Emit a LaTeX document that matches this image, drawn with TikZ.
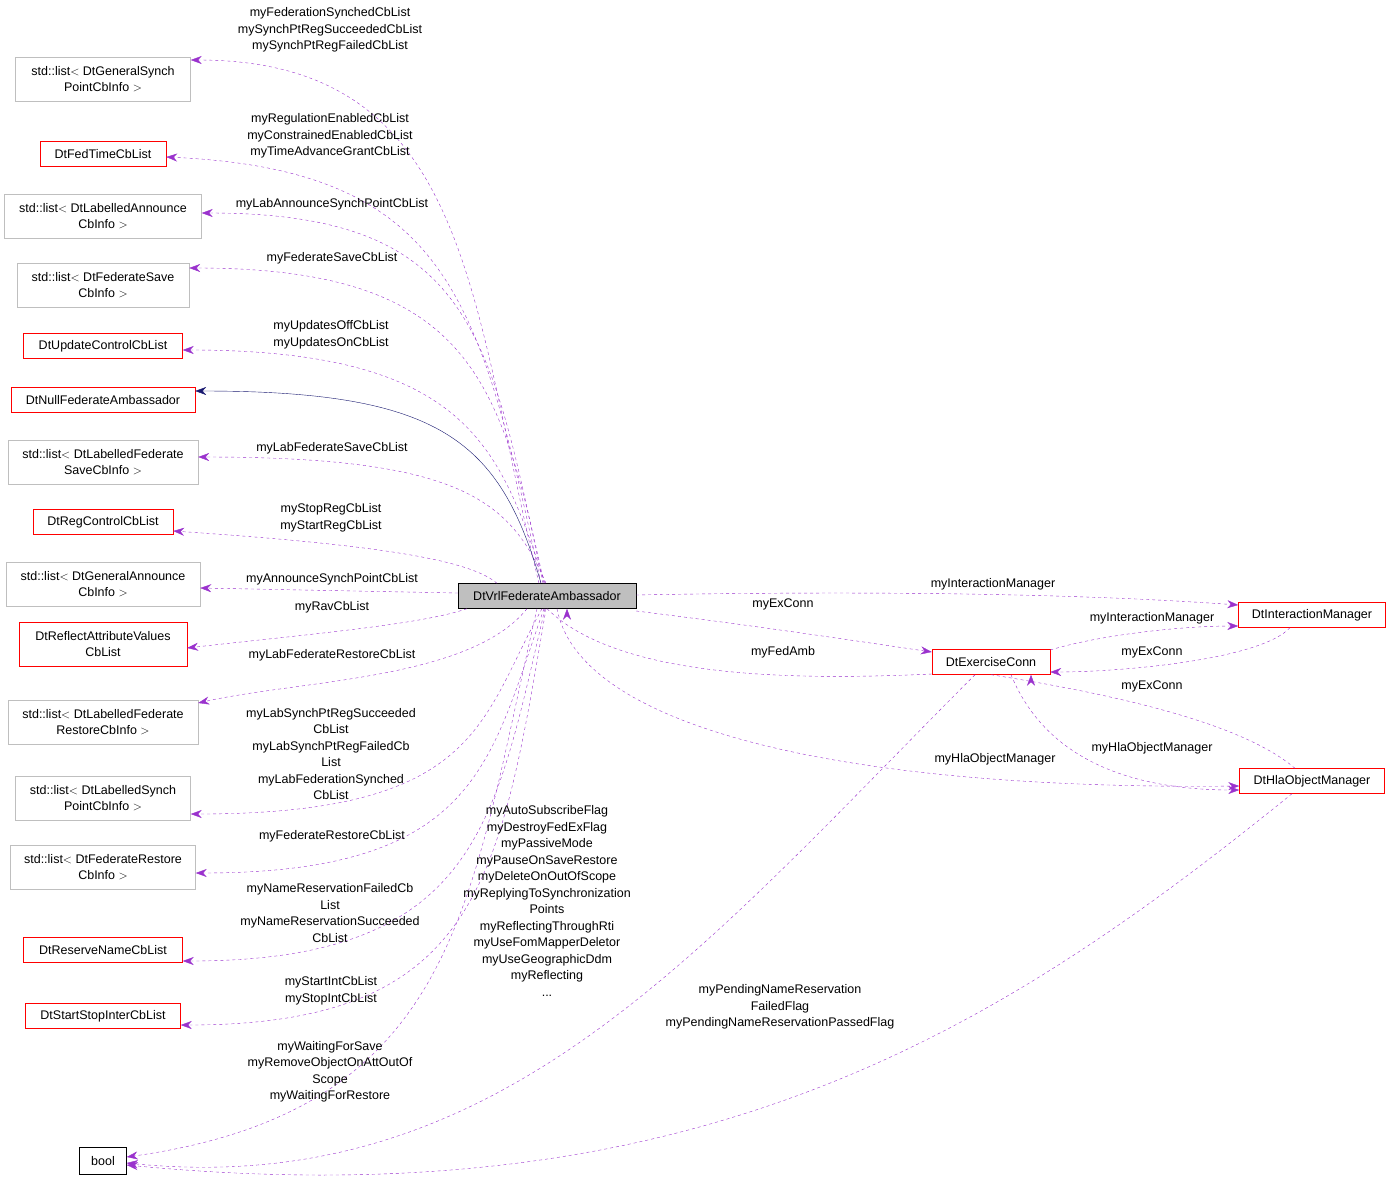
\documentclass[tikz,border=0pt]{standalone}
\usepackage{fontspec}
\setmainfont{Liberation Sans}
\usetikzlibrary{arrows.meta}
\definecolor{depcol}{HTML}{9A32CD}
\definecolor{inhcol}{HTML}{191970}
\definecolor{grayline}{HTML}{BFBFBF}

\begin{document}
\begin{tikzpicture}[x=1pt,y=-1pt,
        font=\fontsize{12.5}{16.5}\selectfont,
        cls/.style = {draw, align=center, inner sep=3pt, minimum height=25pt},
        ext/.style = {cls, draw=grayline, minimum height=44pt},
        red/.style = {cls, draw=red},
        dep/.style = {draw=depcol, dashed, -{Stealth[length=11pt,width=8pt]}},
        inh/.style = {draw=inhcol, -{Stealth[length=11pt,width=8pt]}},
        lbl/.style = {align=center, inner sep=0pt}]
    \useasboundingbox (0,0) rectangle (1392,1189);
    % left column
    \node[ext, minimum width=175pt] (gensynch) at (103,79) {std::list$<$ DtGeneralSynch\\PointCbInfo $>$};
    \node[red, minimum width=126pt] (fedtime) at (103,154) {DtFedTimeCbList};
    \node[ext, minimum width=197pt] (labann) at (103,216) {std::list$<$ DtLabelledAnnounce\\CbInfo $>$};
    \node[ext, minimum width=172pt] (fedsave) at (103,285) {std::list$<$ DtFederateSave\\CbInfo $>$};
    \node[red, minimum width=159pt] (updctl) at (103,346) {DtUpdateControlCbList};
    \node[red, minimum width=184pt] (nullamb) at (103,400) {DtNullFederateAmbassador};
    \node[ext, minimum width=190pt] (labfedsave) at (103,462) {std::list$<$ DtLabelledFederate\\SaveCbInfo $>$};
    \node[red, minimum width=140pt] (regctl) at (103,522) {DtRegControlCbList};
    \node[ext, minimum width=194pt] (genann) at (103,584) {std::list$<$ DtGeneralAnnounce\\CbInfo $>$};
    \node[red, minimum width=168pt, minimum height=44pt] (reflect) at (103,644) {DtReflectAttributeValues\\CbList};
    \node[ext, minimum width=190pt] (labfedrest) at (103,722) {std::list$<$ DtLabelledFederate\\RestoreCbInfo $>$};
    \node[ext, minimum width=175pt] (labsynch) at (103,798) {std::list$<$ DtLabelledSynch\\PointCbInfo $>$};
    \node[ext, minimum width=185pt] (fedrest) at (103,867) {std::list$<$ DtFederateRestore\\CbInfo $>$};
    \node[red, minimum width=159pt] (resname) at (103,950) {DtReserveNameCbList};
    \node[red, minimum width=155pt] (startstop) at (103,1016) {DtStartStopInterCbList};
    \node[cls, minimum width=47pt, minimum height=27pt] (bool) at (103,1161) {bool};
    % centre and right
    \node[cls, fill=grayline, minimum width=178pt] (vrlamb) at (547,596) {DtVrlFederateAmbassador};
    \node[red, minimum width=147pt] (intmgr) at (1312,615) {DtInteractionManager};
    \node[red, minimum width=118pt] (exconn) at (991,662) {DtExerciseConn};
    \node[red, minimum width=145pt] (hlamgr) at (1312,781) {DtHlaObjectManager};

    % edges to the left column
    \draw[dep] (vrlamb.north) ++(-8,0) .. controls (470,300) and (470,60) .. (gensynch.east |- 0,60);
    \draw[dep] (vrlamb.north) ++(-6,0) .. controls (480,300) and (450,170) .. (fedtime.east |- 0,157);
    \draw[dep] (vrlamb.north) ++(-4,0) .. controls (490,330) and (470,213) .. (labann.east |- 0,213);
    \draw[dep] (vrlamb.north) ++(-3,0) .. controls (500,380) and (470,268) .. (fedsave.east |- 0,268);
    \draw[dep] (vrlamb.north) ++(-2,0) .. controls (500,450) and (470,350) .. (updctl.east |- 0,350);
    \draw[inh] (vrlamb.north) ++(-6,0) .. controls (500,440) and (440,391) .. (nullamb.east |- 0,391);
    \draw[dep] (vrlamb.north) ++(-1,0) .. controls (510,500) and (460,457) .. (labfedsave.east |- 0,457);
    \draw[dep] (vrlamb.north) ++(-50,0) .. controls (470,560) and (380,545) .. (regctl.east |- 0,531);
    \draw[dep] (vrlamb.west) ++(0,-3) -- (genann.east |- 0,588);
    \draw[dep] (vrlamb.south) ++(-80,0) .. controls (420,625) and (300,635) .. (reflect.east |- 0,648);
    \draw[dep] (vrlamb.south) ++(-20,0) .. controls (470,680) and (300,680) .. (labfedrest.east |- 0,703);
    \draw[dep] (vrlamb.south) ++(-5,0) .. controls (480,720) and (480,814) .. (labsynch.east |- 0,814);
    \draw[dep] (vrlamb.south) ++(-3,0) .. controls (490,760) and (480,873) .. (fedrest.east |- 0,873);
    \draw[dep] (vrlamb.south) ++(-2,0) .. controls (495,820) and (480,961) .. (resname.east |- 0,961);
    \draw[dep] (vrlamb.south) ++(-1,0) .. controls (500,880) and (480,1025) .. (startstop.east |- 0,1025);
    \draw[dep] (vrlamb.south) ++(-10,0) .. controls (470,900) and (460,1110) .. (bool.east |- 0,1157);
    \draw[dep] (exconn.south) ++(-16,0) .. controls (700,950) and (500,1200) .. (bool.east |- 0,1163);
    \draw[dep] (hlamgr.south) ++(-20,0) .. controls (1000,1030) and (700,1220) .. (bool.east |- 0,1165);
    % edges to the right
    \draw[dep] (vrlamb.east) ++(0,-1) .. controls (900,590) and (1100,595) .. (intmgr.west |- 0,605);
    \draw[dep] (vrlamb.east) ++(0,15) .. controls (750,625) and (850,640) .. (exconn.west |- 0,652);
    \draw[dep] (exconn.west) ++(0,12) .. controls (800,680) and (620,680) .. (vrlamb.south) ++(20,0);
    \draw[dep] (exconn.east) ++(0,-12) .. controls (1100,635) and (1180,626) .. (intmgr.west |- 0,626);
    \draw[dep] (intmgr.south) ++(-22,0) .. controls (1260,660) and (1120,672) .. (exconn.east |- 0,672);
    \draw[dep] (hlamgr.north) ++(-17,0) .. controls (1250,730) and (1150,700) .. (exconn.south) ++(40,0);
    \draw[dep] (exconn.south) ++(20,0) .. controls (1050,770) and (1150,790) .. (hlamgr.west |- 0,790);
    \draw[dep] (vrlamb.south) ++(10,0) .. controls (580,730) and (850,790) .. (hlamgr.west |- 0,786);

    % labels
    \node[lbl] (l1) at (330,30) {myFederationSynchedCbList\\mySynchPtRegSucceededCbList\\mySynchPtRegFailedCbList};
    \node[lbl] (l2) at (330,136) {myRegulationEnabledCbList\\myConstrainedEnabledCbList\\myTimeAdvanceGrantCbList};
    \node[lbl] (l3) at (332,204) {myLabAnnounceSynchPointCbList};
    \node[lbl] (l4) at (332,258) {myFederateSaveCbList};
    \node[lbl] (l5) at (331,335) {myUpdatesOffCbList\\myUpdatesOnCbList};
    \node[lbl] (l7) at (332,448) {myLabFederateSaveCbList};
    \node[lbl] (l8) at (331,518) {myStopRegCbList\\myStartRegCbList};
    \node[lbl] (l9) at (332,579) {myAnnounceSynchPointCbList};
    \node[lbl] (l10) at (332,607) {myRavCbList};
    \node[lbl] (l11) at (332,655) {myLabFederateRestoreCbList};
    \node[lbl] (l12) at (331,754) {myLabSynchPtRegSucceeded\\CbList\\myLabSynchPtRegFailedCb\\List\\myLabFederationSynched\\CbList};
    \node[lbl] (l13) at (332,836) {myFederateRestoreCbList};
    \node[lbl] (l14) at (330,913) {myNameReservationFailedCb\\List\\myNameReservationSucceeded\\CbList};
    \node[lbl] (l15) at (331,991) {myStartIntCbList\\myStopIntCbList};
    \node[lbl] (l16) at (330,1072) {myWaitingForSave\\myRemoveObjectOnAttOutOf\\Scope\\myWaitingForRestore};
    \node[lbl] (l17) at (547,901) {myAutoSubscribeFlag\\myDestroyFedExFlag\\myPassiveMode\\myPauseOnSaveRestore\\myDeleteOnOutOfScope\\myReplyingToSynchronization\\Points\\myReflectingThroughRti\\myUseFomMapperDeletor\\myUseGeographicDdm\\myReflecting\\...};
    \node[lbl] (l18) at (780,1007) {myPendingNameReservation\\FailedFlag\\myPendingNameReservationPassedFlag};
    \node[lbl] (l19) at (993,584) {myInteractionManager};
    \node[lbl] (l20) at (783,604) {myExConn};
    \node[lbl] (l21) at (783,652) {myFedAmb};
    \node[lbl] (l22) at (1152,618) {myInteractionManager};
    \node[lbl] (l23) at (1152,652) {myExConn};
    \node[lbl] (l24) at (1152,686) {myExConn};
    \node[lbl] (l25) at (1152,748) {myHlaObjectManager};
    \node[lbl] (l26) at (995,759) {myHlaObjectManager};
\end{tikzpicture}
\end{document}
